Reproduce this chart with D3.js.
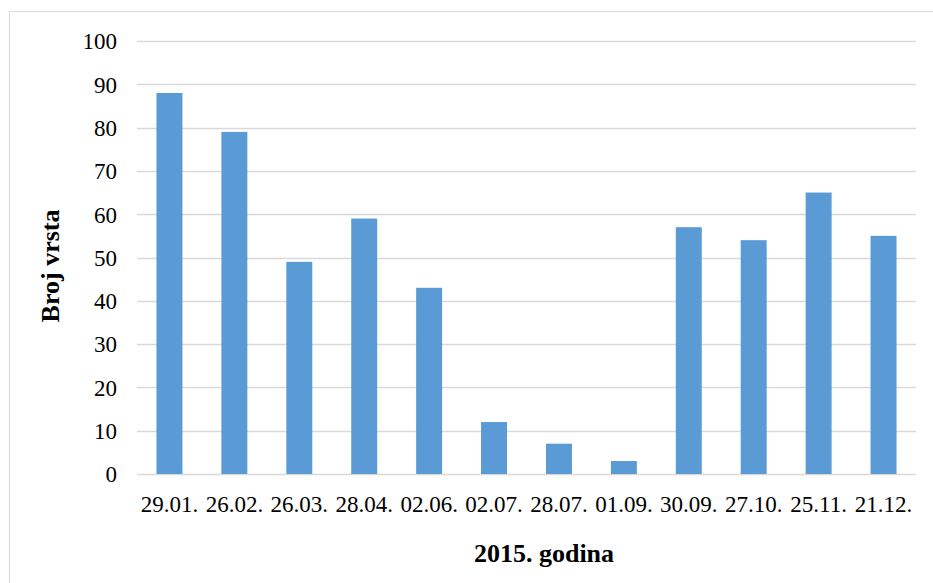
<!DOCTYPE html>
<html><head><meta charset="utf-8">
<script src="https://cdn.jsdelivr.net/npm/d3@7"></script>
<style>body{margin:0;background:#fff}svg{display:block}</style>
</head><body>
<svg id="c" width="933" height="583"></svg>
<script>
const categories = ["29.01.","26.02.","26.03.","28.04.","02.06.","02.07.","28.07.","01.09.","30.09.","27.10.","25.11.","21.12."];
const values = [88,79,49,59,43,12,7,3,57,54,65,55];
const yTicks = [0,10,20,30,40,50,60,70,80,90,100];
const yTitle = "Broj vrsta";
const xTitle = "2015. godina";

(function(){
const svg = d3.select("#c");
const font = "'Liberation Serif','Times New Roman',serif";
svg.append("rect").attr("x",9.5).attr("y",11.5).attr("width",940).attr("height",600)
  .attr("fill","#fff").attr("stroke","#d9d9d9").attr("stroke-width",1);

const pL=137,pR=916,pT=41,pB=474;
const x = d3.scaleBand().domain(categories).range([pL,pR]).paddingInner(0.6).paddingOuter(0.3);
const y = d3.scaleLinear().domain([0,100]).range([pB,pT]);

const g = svg.append("g");
g.selectAll("line.grid").data(yTicks).join("line")
  .attr("x1",pL).attr("x2",pR)
  .attr("y1",d=>Math.round(y(d))+0.5).attr("y2",d=>Math.round(y(d))+0.5)
  .attr("stroke","#d9d9d9").attr("stroke-width",1.5);

g.selectAll("rect.bar").data(values).join("rect")
  .attr("x",(d,i)=>x(categories[i])).attr("width",x.bandwidth())
  .attr("y",d=>y(d)).attr("height",d=>y(0)-y(d))
  .attr("fill","#5b9bd5");

const yAxis = d3.axisLeft(y).tickValues(yTicks).tickSize(0).tickPadding(0);
const ya = svg.append("g").attr("transform",`translate(117,0)`).call(yAxis);
ya.select(".domain").remove();
ya.selectAll("text").attr("font-family",font).attr("font-size",23).attr("fill","#000").attr("dy","0.34em");

const xAxis = d3.axisBottom(x).tickSize(0).tickPadding(0);
const xa = svg.append("g").attr("transform",`translate(0,${pB+21.5})`).call(xAxis);
xa.select(".domain").remove();
xa.selectAll("text").attr("font-family",font).attr("font-size",23).attr("fill","#000").attr("dy","0.71em");

svg.append("text").attr("x",544).attr("y",562).attr("text-anchor","middle")
  .attr("font-family",font).attr("font-size",26).attr("font-weight","bold").text(xTitle);
svg.append("text").attr("transform","translate(59,266) rotate(-90)").attr("text-anchor","middle")
  .attr("font-family",font).attr("font-size",26).attr("font-weight","bold").text(yTitle);
})();
</script>
</body></html>
